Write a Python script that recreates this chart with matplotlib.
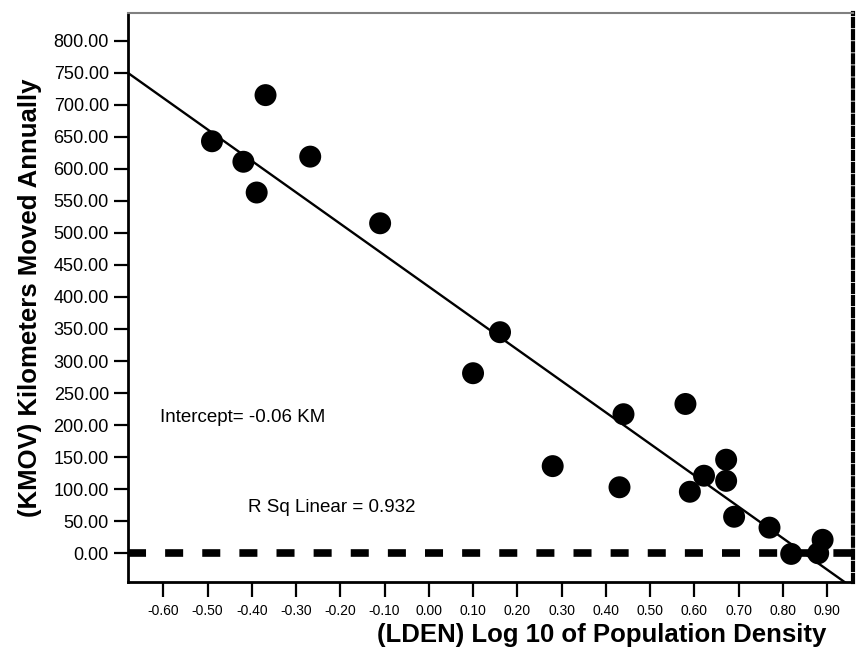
import numpy as np
import matplotlib
matplotlib.use("Agg")
import matplotlib.pyplot as plt

plt.rcParams["font.family"] = ["Liberation Sans", "DejaVu Sans"]

# data
lden = [-0.490, -0.419, -0.389, -0.369, -0.268, -0.110, 0.100, 0.161,
        0.280, 0.431, 0.440, 0.580, 0.590, 0.622, 0.672, 0.672,
        0.690, 0.770, 0.819, 0.890, 0.880]
kmov = [643, 611, 563, 715, 619, 515, 281, 345,
        136, 103, 217, 233, 96, 121, 146, 113,
        57, 40, -1, 21, 0]

# fitted line as drawn in the reference
fit_slope = -490.6
fit_intercept = 416.1

x_ticks = [-0.6, -0.5, -0.4, -0.3, -0.2, -0.1, 0.0, 0.1, 0.2, 0.3, 0.4, 0.5, 0.6, 0.7, 0.8, 0.9]
y_ticks = list(range(0, 801, 50))

x_lim = (-0.6805, 0.9598)
y_lim = (-45.3, 843.6)

fig = plt.figure(figsize=(8.57, 6.59), dpi=100)
ax = fig.add_axes([0.149, 0.1164, 0.8469, 0.8643])

ax.set_xlim(*x_lim)
ax.set_ylim(*y_lim)

# zero reference line
ax.axhline(0, color="black", linewidth=5.5, linestyle=(0, (2.36, 2.5)),
           dash_capstyle="butt", zorder=2)

xs = np.array(x_lim)
ax.plot(xs, fit_intercept + fit_slope * xs, color="black", linewidth=1.7, zorder=3)

ax.scatter(lden, kmov, s=250, color="black", edgecolors="none", zorder=4)

ax.set_xticks(x_ticks)
ax.set_xticklabels([f"{v:.2f}" for v in x_ticks], fontsize=10)
ax.set_yticks(y_ticks)
ax.set_yticklabels([f"{v:.2f}" for v in y_ticks], fontsize=13)
ax.tick_params(axis="x", length=11, width=1.6, pad=4.5, color="black")
ax.tick_params(axis="y", length=10, width=1.6, pad=3.5, color="black")

ax.spines["left"].set_linewidth(2)
ax.spines["bottom"].set_linewidth(2)
ax.spines["top"].set_linewidth(1.5)
ax.spines["top"].set_color("#808080")
ax.spines["right"].set_linewidth(3)
ax.spines["right"].set_linestyle((0, (1.7, 1.2)))

ax.text(-0.6075, 205.4, "Intercept= -0.06 KM", fontsize=13.5, va="baseline")
ax.text(-0.408, 64.9, "R Sq Linear = 0.932", fontsize=13.5, va="baseline")

ax.set_ylabel("(KMOV) Kilometers Moved Annually", fontsize=18.5, fontweight="bold", labelpad=8)
fig.text(602 / 857, 1 - 641.7 / 659, "(LDEN) Log 10 of Population Density",
         fontsize=18.5, fontweight="bold", ha="center", va="baseline")

fig.savefig("out.png", dpi=100)
